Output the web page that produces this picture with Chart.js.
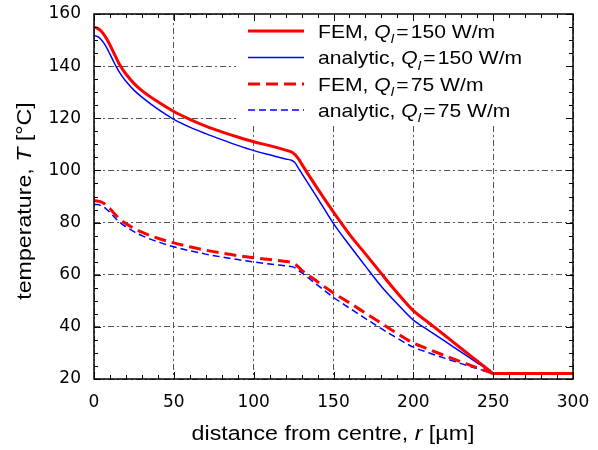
<!DOCTYPE html>
<html>
<head>
<meta charset="utf-8">
<script src="https://cdn.jsdelivr.net/npm/chart.js@4"></script>
<style>
  body { margin: 0; background: #fff; }
</style>
</head>
<body>
<canvas id="chart" width="598" height="450"></canvas>
<script>
// radius positions [µm] shared by all four curves
const rPos = [0, 2, 4, 6, 8, 10, 12, 14, 16, 18, 20, 25, 30, 40, 50, 60, 70, 80, 90, 100,
  110, 120, 124, 126, 128, 130, 140, 150, 160, 170, 180, 190, 200, 210, 220, 230, 240, 245, 248, 250, 275, 300];

const femHigh = [155, 154.6, 153.7, 152.3, 150.4, 148.1, 145.6, 143.1, 140.6, 138.7, 137, 133.4, 130.6, 126.3, 122.6, 119.6, 117, 114.8, 112.8, 111,
  109.5, 107.8, 107, 106, 104.5, 102.5, 93, 84, 75.5, 68, 60.4, 53, 46.2, 41.4, 36.6, 31.7, 26.9, 24.5, 23.1, 22.1, 22.1, 22.1];
const anaHigh = [151.8, 151.4, 150.5, 149, 147, 144.6, 142.1, 139.7, 137.6, 135.8, 134.2, 130.8, 128.1, 123.5, 119.6, 116.6, 114.1, 111.8, 109.6, 107.6,
  106, 104.4, 103.8, 102.9, 100.9, 99, 89.4, 79.6, 71.3, 63.3, 55.5, 48.8, 42.6, 38.5, 34.4, 30.3, 26.2, 24.2, 22.9, 22.1, 22.1, 22.1];
const femLow = [88.4, 88.3, 88, 87.4, 86.5, 85.3, 84, 82.6, 81.4, 80.4, 79.6, 77.8, 76.3, 74, 72.2, 70.7, 69.4, 68.3, 67.3, 66.5,
  65.8, 65.1, 64.6, 64, 63, 61.8, 57.3, 53, 49.2, 45.3, 41.4, 37.4, 33.8, 31.3, 28.9, 26.6, 24.3, 23.2, 22.6, 22.1, 22.1, 22.1];
const anaLow = [87, 86.9, 86.6, 86, 85, 83.9, 82.6, 81.3, 80.2, 79.2, 78.4, 76.5, 75, 72.6, 70.7, 69.2, 67.9, 66.8, 65.8, 64.9,
  64.1, 63.4, 63.1, 62.6, 61.7, 60.8, 56, 51.3, 47.2, 43.2, 39.3, 35.6, 32.2, 30, 27.9, 25.9, 24, 23.05, 22.5, 22.1, 22.1, 22.1];

const seriesNames = ["FEM", "analytic", "FEM", "analytic"];
const seriesLoads = ["150", "150", "75", "75"];

const FONT = '"Liberation Sans", Arial, sans-serif';
const TICK_FONT = '"DejaVu Sans", sans-serif';

function pts(vals) {
  return rPos.map((r, i) => ({ x: r, y: vals[i] }));
}

// text pieces, some italic / subscript, drawn a bit wider than the font
function setFont(ctx, p, size) {
  ctx.font = (p.it ? "italic " : "") + (p.sub ? size * 0.7 : size) + "px " + FONT;
}
function richWidth(ctx, parts, size, sx) {
  let w = 0;
  parts.forEach((p) => {
    setFont(ctx, p, size);
    w += ctx.measureText(p.t).width + (p.gap || 0);
  });
  return w * sx;
}
function drawRich(ctx, parts, x, y, size, sx) {
  ctx.save();
  ctx.translate(x, y);
  ctx.scale(sx, 1);
  let cx = 0;
  parts.forEach((p) => {
    setFont(ctx, p, size);
    ctx.fillText(p.t, cx, p.sub ? size * 0.3 : 0);
    cx += ctx.measureText(p.t).width + (p.gap || 0);
  });
  ctx.restore();
}

const styles = [
  { color: "#ff0000", width: 3, dash: [] },
  { color: "#0000ff", width: 1.5, dash: [] },
  { color: "#ff0000", width: 3, dash: [12, 6] },
  { color: "#0000ff", width: 1.5, dash: [7, 4] },
];

const extras = {
  id: "extras",
  beforeDatasetsDraw(chart) {
    const ctx = chart.ctx;
    const a = chart.chartArea;
    // legend box hides the grid behind it
    ctx.save();
    ctx.fillStyle = "#fff";
    ctx.fillRect(236, a.top, a.right - 236, 124 - a.top);
    const rows = [31, 57.5, 84, 110];
    rows.forEach((y, i) => {
      const s = styles[i];
      ctx.strokeStyle = s.color;
      ctx.lineWidth = s.width;
      ctx.setLineDash(s.dash);
      ctx.beginPath();
      ctx.moveTo(248, y);
      ctx.lineTo(304, y);
      ctx.stroke();
      ctx.setLineDash([]);
      ctx.fillStyle = "#000";
      ctx.textBaseline = "alphabetic";
      ctx.textAlign = "left";
      drawRich(ctx, [
        { t: seriesNames[i] + ", " },
        { t: "Q", it: true },
        { t: "l", it: true, sub: true, gap: 2 },
        { t: "=", gap: 2 },
        { t: seriesLoads[i] + " W/m" },
      ], 318, y + 6.5, 18.5, 1.14);
    });
    ctx.restore();
  },
  afterDraw(chart) {
    const ctx = chart.ctx;
    const a = chart.chartArea;
    const xs = chart.scales.x;
    const ys = chart.scales.y;
    ctx.save();
    ctx.strokeStyle = "#000";
    ctx.lineWidth = 1;
    ctx.beginPath();
    for (let v = 0; v <= 300; v += 10) {
      const px = Math.round(xs.getPixelForValue(v)) + 0.5;
      const len = v % 50 === 0 ? 7 : 4;
      ctx.moveTo(px, a.bottom); ctx.lineTo(px, a.bottom - len);
      ctx.moveTo(px, a.top); ctx.lineTo(px, a.top + len);
    }
    for (let v = 20; v <= 160; v += 5) {
      const py = Math.round(ys.getPixelForValue(v)) + 0.5;
      const len = v % 20 === 0 ? 7 : 4;
      ctx.moveTo(a.left, py); ctx.lineTo(a.left + len, py);
      ctx.moveTo(a.right, py); ctx.lineTo(a.right - len, py);
    }
    ctx.stroke();
    ctx.lineWidth = 1.5;
    ctx.strokeRect(a.left, a.top, a.right - a.left, a.bottom - a.top);

    // axis titles
    ctx.fillStyle = "#000";
    ctx.textBaseline = "alphabetic";
    const xt = [{ t: "distance from centre, " }, { t: "r", it: true }, { t: " [µm]" }];
    const xw = richWidth(ctx, xt, 20, 1.16);
    drawRich(ctx, xt, 333 - xw / 2, 440, 20, 1.16);
    const yt = [{ t: "temperature, " }, { t: "T", it: true }, { t: " [°C]" }];
    const yw = richWidth(ctx, yt, 20, 1.16);
    ctx.translate(31, 201);
    ctx.rotate(-Math.PI / 2);
    drawRich(ctx, yt, -yw / 2, 0, 20, 1.16);
    ctx.restore();
  },
};

const gridOpts = { color: "#555", lineWidth: 1, drawTicks: false };
const borderOpts = { display: false, dash: [6, 3, 2, 3] };

new Chart(document.getElementById("chart"), {
  type: "line",
  data: {
    datasets: [femHigh, anaHigh, femLow, anaLow].map((vals, i) => ({
      label: seriesNames[i] + " " + seriesLoads[i],
      data: pts(vals),
      borderColor: styles[i].color,
      borderWidth: styles[i].width,
      borderDash: styles[i].dash,
      pointRadius: 0,
      fill: false,
      cubicInterpolationMode: "monotone",
    })),
  },
  options: {
    responsive: false,
    animation: false,
    devicePixelRatio: 1,
    layout: { padding: { top: 14, right: 25, left: 0, bottom: 0 } },
    plugins: { legend: { display: false }, tooltip: { enabled: false } },
    scales: {
      x: {
        type: "linear",
        min: 0,
        max: 300,
        ticks: { stepSize: 50, padding: 13, color: "#000", font: { family: TICK_FONT, size: 17 } },
        grid: gridOpts,
        border: borderOpts,
        afterFit: (s) => { s.height = 71; s.paddingLeft = 0; s.paddingRight = 0; },
      },
      y: {
        min: 20,
        max: 160,
        ticks: { stepSize: 20, padding: 13, color: "#000", font: { family: TICK_FONT, size: 17 } },
        grid: gridOpts,
        border: borderOpts,
        afterFit: (s) => { s.width = 94; s.paddingTop = 0; s.paddingBottom = 0; },
      },
    },
  },
  plugins: [extras],
});
</script>
</body>
</html>
